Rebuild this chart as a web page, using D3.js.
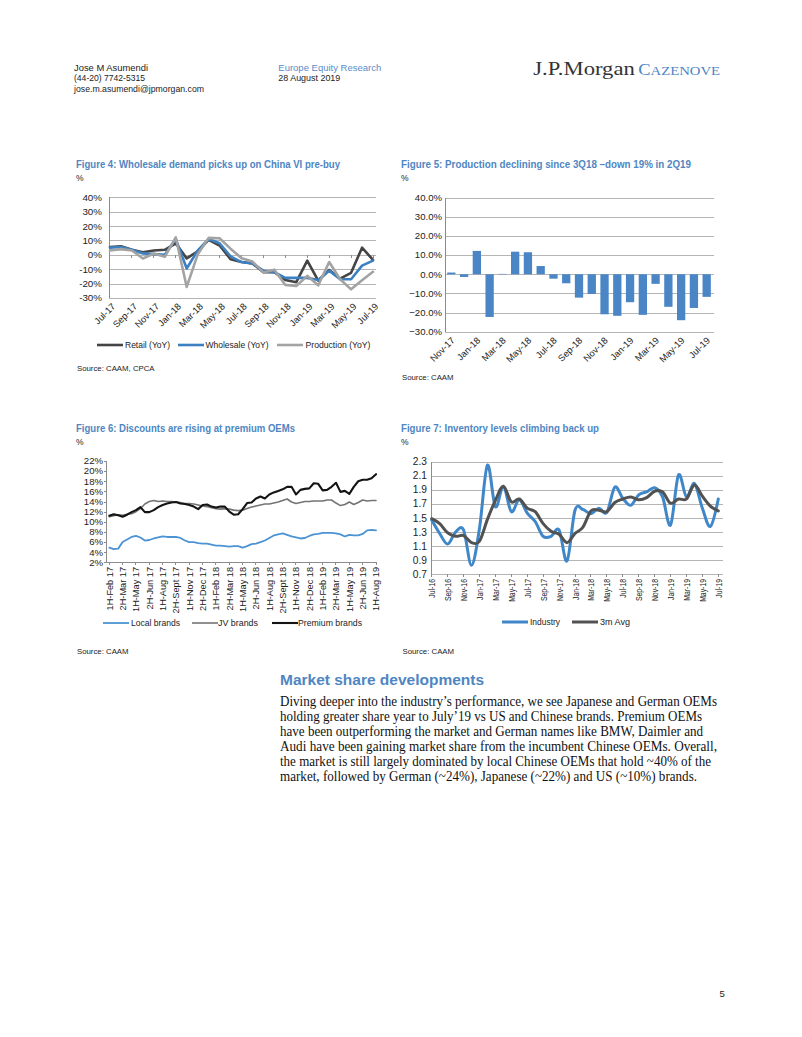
<!DOCTYPE html>
<meta charset="utf-8">
<style>
    body {
        margin: 0;
        background: #fff;
    }

    svg {
        font-family: "Liberation Sans", Arial, sans-serif;
        fill: #222;
    }

    .grid {
        stroke: #b5b5b5;
        stroke-width: 1;
        shape-rendering: crispEdges;
    }

    .axis-line {
        stroke: #8c8c8c;
        stroke-width: 1;
        shape-rendering: crispEdges;
    }

    .series {
        fill: none;
        stroke-linejoin: round;
        stroke-linecap: round;
    }
</style>
<body>
<script src="https://d3js.org/d3.v7.min.js"></script>
<script>
    // ---- Figure 4: monthly YoY, Jul-17 .. Jul-19
    const fig4Months = ["Jul-17", "Aug-17", "Sep-17", "Oct-17", "Nov-17", "Dec-17", "Jan-18", "Feb-18", "Mar-18",
        "Apr-18", "May-18", "Jun-18", "Jul-18", "Aug-18", "Sep-18", "Oct-18", "Nov-18", "Dec-18", "Jan-19", "Feb-19",
        "Mar-19", "Apr-19", "May-19", "Jun-19", "Jul-19"];
    const retailYoY = [5.5, 6, 3.5, 1.8, 3, 3.5, 8, -2.5, 2.5, 10.5, 6.5, -3, -5, -6, -12, -12, -17.5, -19, -4, -18,
        -10.5, -16.5, -12.5, 5, -3.5];
    const wholesaleYoY = [5, 5.5, 3.5, 1, 0.5, 0, 11, -9.5, 3, 11, 8, -1, -5, -6, -11, -12, -16, -16, -16, -17.5,
        -11, -17, -17, -7.5, -4];
    const productionYoY = [3, 4, 3, -2.5, 0.9, -1.4, 12.2, -22.3, 0.2, 11.8, 11.5, 4.3, -2.3, -4.7, -12.2, -10.3,
        -20.9, -21.7, -14.6, -21.2, -5, -17, -24, -17.6, -11.8];
    const fig4Ticks = [40, 30, 20, 10, 0, -10, -20, -30];

    // ---- Figure 5: production YoY, Nov-17 .. Jul-19
    const fig5Months = ["Nov-17", "Dec-17", "Jan-18", "Feb-18", "Mar-18", "Apr-18", "May-18", "Jun-18", "Jul-18",
        "Aug-18", "Sep-18", "Oct-18", "Nov-18", "Dec-18", "Jan-19", "Feb-19", "Mar-19", "Apr-19", "May-19", "Jun-19",
        "Jul-19"];
    const productionChg = [0.9, -1.4, 12.2, -22.3, 0.2, 11.8, 11.5, 4.3, -2.3, -4.7, -12.2, -10.3, -20.9, -21.7,
        -14.6, -21.2, -5, -17, -24, -17.6, -11.8];
    const fig5Ticks = [40, 30, 20, 10, 0, -10, -20, -30];

    // ---- Figure 6: half-monthly discounts, 1H-Feb 17 .. 1H-Aug 19 (61 points)
    const fig6Labels = ["1H-Feb 17", "2H-Mar 17", "1H-May 17", "2H-Jun 17", "1H-Aug 17", "2H-Sept 17", "1H-Nov 17",
        "2H-Dec 17", "1H-Feb 18", "2H-Mar 18", "1H-May 18", "2H-Jun 18", "1H-Aug 18", "2H-Sept 18", "1H-Nov 18",
        "2H-Dec 18", "1H-Feb 19", "2H-Mar 19", "1H-May 19", "2H-Jun 19", "1H-Aug 19"];
    const localBrands = [4.9, 4.6, 4.7, 6.0, 6.5, 7.0, 7.2, 6.9, 6.3, 6.4, 6.7, 6.9, 7.1, 7.0, 7.0, 7.0, 6.8, 6.3,
        6.0, 6.0, 5.8, 5.7, 5.7, 5.5, 5.3, 5.3, 5.2, 5.1, 5.2, 5.2, 4.9, 5.2, 5.6, 5.7, 6.0, 6.3, 6.8, 7.3, 7.5, 7.7,
        7.4, 7.1, 6.9, 6.7, 6.8, 7.2, 7.5, 7.6, 7.8, 7.8, 7.8, 7.7, 7.5, 7.1, 7.4, 7.3, 7.3, 7.6, 8.3, 8.4, 8.3];
    const jvBrands = [11.0, 11.2, 11.4, 11.3, 11.5, 11.6, 12.0, 12.6, 13.5, 14.0, 14.2, 14.0, 14.1, 14.0, 14.0, 13.9,
        13.8, 13.6, 13.6, 13.5, 13.3, 13.1, 13.0, 12.8, 12.6, 12.5, 12.6, 12.5, 12.3, 12.2, 12.3, 12.6, 12.9, 13.1,
        13.3, 13.5, 13.5, 13.7, 13.9, 14.2, 14.5, 13.9, 13.6, 13.8, 14.0, 14.0, 14.1, 14.1, 14.1, 14.3, 14.3, 13.7,
        13.2, 13.4, 13.9, 13.4, 13.8, 14.3, 14.1, 14.2, 14.2];
    const premiumBrands = [11.2, 11.5, 11.3, 11.0, 11.4, 11.9, 12.3, 12.9, 11.9, 11.9, 12.3, 12.9, 13.3, 13.6, 13.8,
        13.9, 13.6, 13.5, 13.3, 13.0, 12.5, 13.3, 13.4, 13.0, 12.8, 13.0, 13.0, 12.0, 11.4, 11.5, 12.5, 13.7, 13.8,
        14.6, 15.0, 14.6, 15.4, 15.8, 16.1, 16.4, 16.9, 16.9, 15.4, 16.3, 16.5, 16.6, 17.6, 17.5, 16.2, 16.3, 16.9,
        17.7, 15.9, 16.1, 15.5, 16.9, 18.0, 18.3, 18.3, 18.6, 19.4];
    const fig6Ticks = [22, 20, 18, 16, 14, 12, 10, 8, 6, 4, 2];

    // ---- Figure 7: inventory, Jul-16 .. Jul-19 (37 months)
    const fig7Labels = ["Jul-16", "Sep-16", "Nov-16", "Jan-17", "Mar-17", "May-17", "Jul-17", "Sep-17", "Nov-17",
        "Jan-18", "Mar-18", "May-18", "Jul-18", "Sep-18", "Nov-18", "Jan-19", "Mar-19", "May-19", "Jul-19"];
    const industryInv = [1.47, 1.28, 1.13, 1.30, 1.33, 0.83, 1.35, 2.25, 1.66, 1.95, 1.59, 1.76, 1.57, 1.45, 1.24,
        1.24, 1.33, 0.89, 1.61, 1.62, 1.56, 1.64, 1.58, 1.94, 1.78, 1.68, 1.83, 1.87, 1.93, 1.80, 1.40, 2.11, 1.80,
        1.99, 1.64, 1.38, 1.77];
    const avg3mInv = [1.49, 1.42, 1.29, 1.24, 1.25, 1.15, 1.17, 1.48, 1.75, 1.95, 1.73, 1.77, 1.64, 1.59, 1.42, 1.31,
        1.27, 1.15, 1.28, 1.37, 1.60, 1.61, 1.59, 1.72, 1.77, 1.80, 1.76, 1.79, 1.88, 1.87, 1.71, 1.77, 1.77, 1.97,
        1.81, 1.67, 1.60];
    const fig7Ticks = [2.3, 2.1, 1.9, 1.7, 1.5, 1.3, 1.1, 0.9, 0.7];

    const bodyLines = [
        "Diving deeper into the industry\u2019s performance, we see Japanese and German OEMs",
        "holding greater share year to July\u201919 vs US and Chinese brands. Premium OEMs",
        "have been outperforming the market and German names like BMW, Daimler and",
        "Audi have been gaining market share from the incumbent Chinese OEMs. Overall,",
        "the market is still largely dominated by local Chinese OEMs that hold ~40% of the",
        "market, followed by German (~24%), Japanese (~22%) and US (~10%) brands."
    ];
    const bodyWidths = [437, 422, 423, 437, 431, 417];

    const blue = "#4f86c2";

    const svg = d3.select("body")
        .append("svg")
        .attr("width", 802)
        .attr("height", 1037);

    svg.append("rect").attr("width", 802).attr("height", 1037).attr("fill", "#fff");

    // squeeze a text to a given width
    function fit(sel, w) {
        return sel.attr("textLength", w).attr("lengthAdjust", "spacingAndGlyphs");
    }

    // squeeze a text by a factor of its natural width
    function narrow(sel, k) {
        sel.each(function() {
            const w = this.getComputedTextLength();
            d3.select(this).attr("textLength", w * k).attr("lengthAdjust", "spacingAndGlyphs");
        });
    }

    function label(g, x, y, s, size, color) {
        return g.append("text")
            .attr("x", x)
            .attr("y", y)
            .style("font-size", size + "px")
            .style("fill", color || "#222")
            .text(s);
    }

    //THE HEADER
    const head = svg.append("g").attr("class", "header");
    fit(label(head, 74, 70.5, "Jose M Asumendi", 9.3), 74);
    fit(label(head, 74, 81, "(44-20) 7742-5315", 9.3), 71);
    fit(label(head, 74, 91.5, "jose.m.asumendi@jpmorgan.com", 9.3), 130);
    fit(label(head, 278.3, 70.5, "Europe Equity Research", 9.5, "#5a8cc8"), 103);
    fit(label(head, 278.3, 81, "28 August 2019", 9.3), 62);

    fit(label(head, 533.3, 75, "J.P.Morgan", 19.5, "#333")
        .style("font-family", "'Liberation Serif', 'Times New Roman', serif"), 101.5);
    const caz = head.append("text")
        .attr("x", 638.3)
        .attr("y", 75)
        .style("font-family", "'Liberation Serif', 'Times New Roman', serif")
        .style("fill", "#4a86c4");
    caz.append("tspan").style("font-size", "16px").text("C");
    caz.append("tspan").style("font-size", "12.8px").text("AZENOVE");
    fit(caz, 81.7);

    //FIGURE 4
    const f4 = svg.append("g").attr("class", "fig4");
    fit(label(f4, 76, 167.5, "Figure 4: Wholesale demand picks up on China VI pre-buy", 11.7, blue)
        .style("font-weight", "bold"), 264);
    label(f4, 76, 180.5, "%", 8.5);

    const x4 = d3.scalePoint().domain(fig4Months).range([110, 373]);
    const y4 = d3.scaleLinear().domain([-30, 40]).range([298, 197.3]);

    f4.selectAll(".grid")
        .data(fig4Ticks)
        .enter().append("line")
        .attr("class", "grid")
        .attr("x1", 109).attr("x2", 376)
        .attr("y1", d => Math.round(y4(d)) + 0.5).attr("y2", d => Math.round(y4(d)) + 0.5);

    f4.append("line").attr("class", "axis-line")
        .attr("x1", 109.5).attr("x2", 109.5).attr("y1", y4(40)).attr("y2", y4(-30));

    f4.selectAll(".ytick")
        .data(fig4Ticks)
        .enter().append("text")
        .attr("x", 102)
        .attr("y", d => y4(d))
        .attr("dy", "0.35em")
        .style("text-anchor", "end")
        .style("font-size", "9.8px")
        .text(d => d + "%");

    // small tick marks on the zero line
    f4.selectAll(".ztick")
        .data(fig4Months.filter((d, i) => i % 2 === 0 && i > 0))
        .enter().append("line")
        .attr("class", "axis-line")
        .attr("x1", d => x4(d)).attr("x2", d => x4(d))
        .attr("y1", y4(0)).attr("y2", y4(0) + 3);

    f4.selectAll(".xtick")
        .data(fig4Months.filter((d, i) => i % 2 === 0))
        .enter().append("text")
        .attr("transform", d => "translate(" + (x4(d) + 6) + ",307) rotate(-45)")
        .style("text-anchor", "end")
        .style("font-size", "9.3px")
        .text(d => d);

    const series4 = [
        {name: "Retail (YoY)", values: retailYoY, color: "#444444", lx: 97, tx: 125, tw: 45},
        {name: "Wholesale (YoY)", values: wholesaleYoY, color: "#3d80c2", lx: 178, tx: 205.5, tw: 63},
        {name: "Production (YoY)", values: productionYoY, color: "#a3a3a3", lx: 277, tx: 305.5, tw: 65}
    ];

    const line4 = d3.line()
        .x((d, i) => x4(fig4Months[i]))
        .y(d => y4(d));

    f4.selectAll(".series")
        .data(series4)
        .enter().append("path")
        .attr("class", "series")
        .attr("d", d => line4(d.values))
        .style("stroke", d => d.color)
        .style("stroke-width", 2.6);

    // draw legend
    const leg4 = f4.selectAll(".legend")
        .data(series4)
        .enter().append("g")
        .attr("class", "legend");
    leg4.append("line")
        .attr("x1", d => d.lx).attr("x2", d => d.lx + 26)
        .attr("y1", 345).attr("y2", 345)
        .style("stroke", d => d.color)
        .style("stroke-width", 2.6);
    leg4.append("text")
        .attr("x", d => d.tx)
        .attr("y", 348.2)
        .style("font-size", "9px")
        .attr("textLength", d => d.tw)
        .attr("lengthAdjust", "spacingAndGlyphs")
        .text(d => d.name);

    label(f4, 77, 370.8, "Source: CAAM, CPCA", 7.8);

    //FIGURE 5
    const f5 = svg.append("g").attr("class", "fig5");
    fit(label(f5, 401, 167.5, "Figure 5: Production declining since 3Q18 \u2013down 19% in 2Q19", 11.7, blue)
        .style("font-weight", "bold"), 290);
    label(f5, 401, 180.5, "%", 8.5);

    const x5 = d3.scaleBand().domain(fig5Months).range([445, 713]).paddingInner(0.35).paddingOuter(0.17);
    const y5 = d3.scaleLinear().domain([-30, 40]).range([331.7, 197.7]);

    f5.selectAll(".grid")
        .data(fig5Ticks)
        .enter().append("line")
        .attr("class", "grid")
        .attr("x1", 445).attr("x2", 714)
        .attr("y1", d => Math.round(y5(d)) + 0.5).attr("y2", d => Math.round(y5(d)) + 0.5);

    f5.append("line").attr("class", "axis-line")
        .attr("x1", 445.5).attr("x2", 445.5).attr("y1", y5(40)).attr("y2", y5(-30));

    f5.selectAll(".ytick")
        .data(fig5Ticks)
        .enter().append("text")
        .attr("x", 442)
        .attr("y", d => y5(d))
        .attr("dy", "0.35em")
        .style("text-anchor", "end")
        .style("font-size", "9.6px")
        .text(d => d3.format(".1f")(d) + "%");

    f5.selectAll(".bar")
        .data(productionChg)
        .enter().append("rect")
        .attr("class", "bar")
        .attr("x", (d, i) => x5(fig5Months[i]))
        .attr("width", x5.bandwidth())
        .attr("y", d => Math.min(y5(d), y5(0)))
        .attr("height", d => Math.abs(y5(d) - y5(0)))
        .style("fill", "#4a86c6");

    f5.selectAll(".xtick")
        .data(fig5Months.filter((d, i) => i % 2 === 0))
        .enter().append("text")
        .attr("transform", d => "translate(" + (x5(d) + x5.bandwidth() / 2 + 4) + ",341) rotate(-45)")
        .style("text-anchor", "end")
        .style("font-size", "9.3px")
        .text(d => d);

    label(f5, 402, 380, "Source: CAAM", 7.8);

    //FIGURE 6
    const f6 = svg.append("g").attr("class", "fig6");
    fit(label(f6, 76, 431.5, "Figure 6: Discounts are rising at premium OEMs", 11.7, blue)
        .style("font-weight", "bold"), 219);
    label(f6, 76, 444.5, "%", 8.5);

    const x6 = d3.scaleLinear().domain([0, 60]).range([109.3, 376]);
    const y6 = d3.scaleLinear().domain([2, 22]).range([562.3, 461]);

    f6.append("line").attr("class", "axis-line")
        .attr("x1", 106.5).attr("x2", 106.5).attr("y1", y6(22)).attr("y2", y6(2));
    f6.append("line").attr("class", "axis-line")
        .attr("x1", 106.5).attr("x2", 377).attr("y1", Math.round(y6(2)) + 0.5).attr("y2", Math.round(y6(2)) + 0.5);

    f6.selectAll(".ymark")
        .data(fig6Ticks)
        .enter().append("line")
        .attr("class", "axis-line")
        .attr("x1", 103.5).attr("x2", 106.5)
        .attr("y1", d => Math.round(y6(d)) + 0.5).attr("y2", d => Math.round(y6(d)) + 0.5);

    f6.selectAll(".ytick")
        .data(fig6Ticks)
        .enter().append("text")
        .attr("x", 103)
        .attr("y", d => y6(d))
        .attr("dy", "0.35em")
        .style("text-anchor", "end")
        .style("font-size", "9.6px")
        .text(d => d + "%");

    f6.selectAll(".xmark")
        .data(fig6Labels)
        .enter().append("line")
        .attr("class", "axis-line")
        .attr("x1", (d, i) => x6(i * 3)).attr("x2", (d, i) => x6(i * 3))
        .attr("y1", y6(2)).attr("y2", y6(2) + 3);

    f6.selectAll(".xtick")
        .data(fig6Labels)
        .enter().append("text")
        .attr("transform", (d, i) => "translate(" + (x6(i * 3) + 3.3) + ",567) rotate(-90)")
        .style("text-anchor", "end")
        .style("font-size", "9.2px")
        .text(d => d);

    const series6 = [
        {name: "Local brands", values: localBrands, color: "#4b93d3", width: 1.8, lx: 103, tx: 131, tw: 49},
        {name: "JV brands", values: jvBrands, color: "#747474", width: 1.6, lx: 192, tx: 218, tw: 40},
        {name: "Premium brands", values: premiumBrands, color: "#141414", width: 2.1, lx: 272, tx: 298, tw: 64}
    ];

    const line6 = d3.line()
        .x((d, i) => x6(i))
        .y(d => y6(d));

    f6.selectAll(".series")
        .data(series6)
        .enter().append("path")
        .attr("class", "series")
        .attr("d", d => line6(d.values))
        .style("stroke", d => d.color)
        .style("stroke-width", d => d.width);

    const leg6 = f6.selectAll(".legend")
        .data(series6)
        .enter().append("g")
        .attr("class", "legend");
    leg6.append("line")
        .attr("x1", d => d.lx).attr("x2", d => d.lx + 26)
        .attr("y1", 623).attr("y2", 623)
        .style("stroke", d => d.color)
        .style("stroke-width", d => d.width);
    leg6.append("text")
        .attr("x", d => d.tx)
        .attr("y", 626.2)
        .style("font-size", "9px")
        .attr("textLength", d => d.tw)
        .attr("lengthAdjust", "spacingAndGlyphs")
        .text(d => d.name);

    label(f6, 77, 654, "Source: CAAM", 7.8);

    //FIGURE 7
    const f7 = svg.append("g").attr("class", "fig7");
    fit(label(f7, 401, 431.5, "Figure 7: Inventory levels climbing back up", 11.7, blue)
        .style("font-weight", "bold"), 198);
    label(f7, 401, 444.5, "%", 8.5);

    const x7 = d3.scaleLinear().domain([0, 36]).range([431.7, 718.3]);
    const y7 = d3.scaleLinear().domain([0.7, 2.3]).range([574.3, 461.7]);

    f7.selectAll(".grid")
        .data(fig7Ticks)
        .enter().append("line")
        .attr("class", "grid")
        .attr("x1", 431).attr("x2", 723)
        .attr("y1", d => Math.round(y7(d)) + 0.5).attr("y2", d => Math.round(y7(d)) + 0.5);

    f7.append("line").attr("class", "axis-line")
        .attr("x1", 431.5).attr("x2", 431.5).attr("y1", y7(2.3)).attr("y2", y7(0.7));

    f7.selectAll(".ytick")
        .data(fig7Ticks)
        .enter().append("text")
        .attr("x", 427)
        .attr("y", d => y7(d))
        .attr("dy", "0.35em")
        .style("text-anchor", "end")
        .style("font-size", "10.2px")
        .text(d => d3.format(".1f")(d));

    f7.selectAll(".xmark")
        .data(fig7Labels)
        .enter().append("line")
        .attr("class", "axis-line")
        .attr("x1", (d, i) => x7(i * 2)).attr("x2", (d, i) => x7(i * 2))
        .attr("y1", y7(0.7)).attr("y2", y7(0.7) + 3);

    f7.selectAll(".xtick")
        .data(fig7Labels)
        .enter().append("text")
        .attr("transform", (d, i) => "translate(" + (x7(i * 2) + 3.5) + ",579) rotate(-90)")
        .style("text-anchor", "end")
        .style("font-size", "9.8px")
        .text(d => d)
        .call(narrow, 0.7);

    const series7 = [
        {name: "Industry", values: industryInv, color: "#3f87c8", lx: 502, tx: 530, tw: 30},
        {name: "3m Avg", values: avg3mInv, color: "#525252", lx: 572, tx: 600, tw: 30}
    ];

    const line7 = d3.line()
        .curve(d3.curveCatmullRom.alpha(0))
        .x((d, i) => x7(i))
        .y(d => y7(d));

    f7.selectAll(".series")
        .data(series7)
        .enter().append("path")
        .attr("class", "series")
        .attr("d", d => line7(d.values))
        .style("stroke", d => d.color)
        .style("stroke-width", 3);

    const leg7 = f7.selectAll(".legend")
        .data(series7)
        .enter().append("g")
        .attr("class", "legend");
    leg7.append("line")
        .attr("x1", d => d.lx).attr("x2", d => d.lx + 26)
        .attr("y1", 622).attr("y2", 622)
        .style("stroke", d => d.color)
        .style("stroke-width", 3);
    leg7.append("text")
        .attr("x", d => d.tx)
        .attr("y", 625.2)
        .style("font-size", "9px")
        .attr("textLength", d => d.tw)
        .attr("lengthAdjust", "spacingAndGlyphs")
        .text(d => d.name);

    label(f7, 402.5, 654, "Source: CAAM", 7.8);

    //TEXT SECTION
    const sec = svg.append("g").attr("class", "section");
    fit(label(sec, 280, 685, "Market share developments", 15.5, blue).style("font-weight", "bold"), 204);

    sec.selectAll(".body")
        .data(bodyLines)
        .enter().append("text")
        .attr("class", "body")
        .attr("x", 280)
        .attr("y", (d, i) => 705.5 + i * 15)
        .style("font-family", "'Liberation Serif', 'Times New Roman', serif")
        .style("font-size", "14px")
        .style("fill", "#111")
        .attr("textLength", (d, i) => bodyWidths[i])
        .attr("lengthAdjust", "spacingAndGlyphs")
        .text(d => d);

    label(svg, 719.5, 996.5, "5", 9.5);
</script>
</body>
</html>
